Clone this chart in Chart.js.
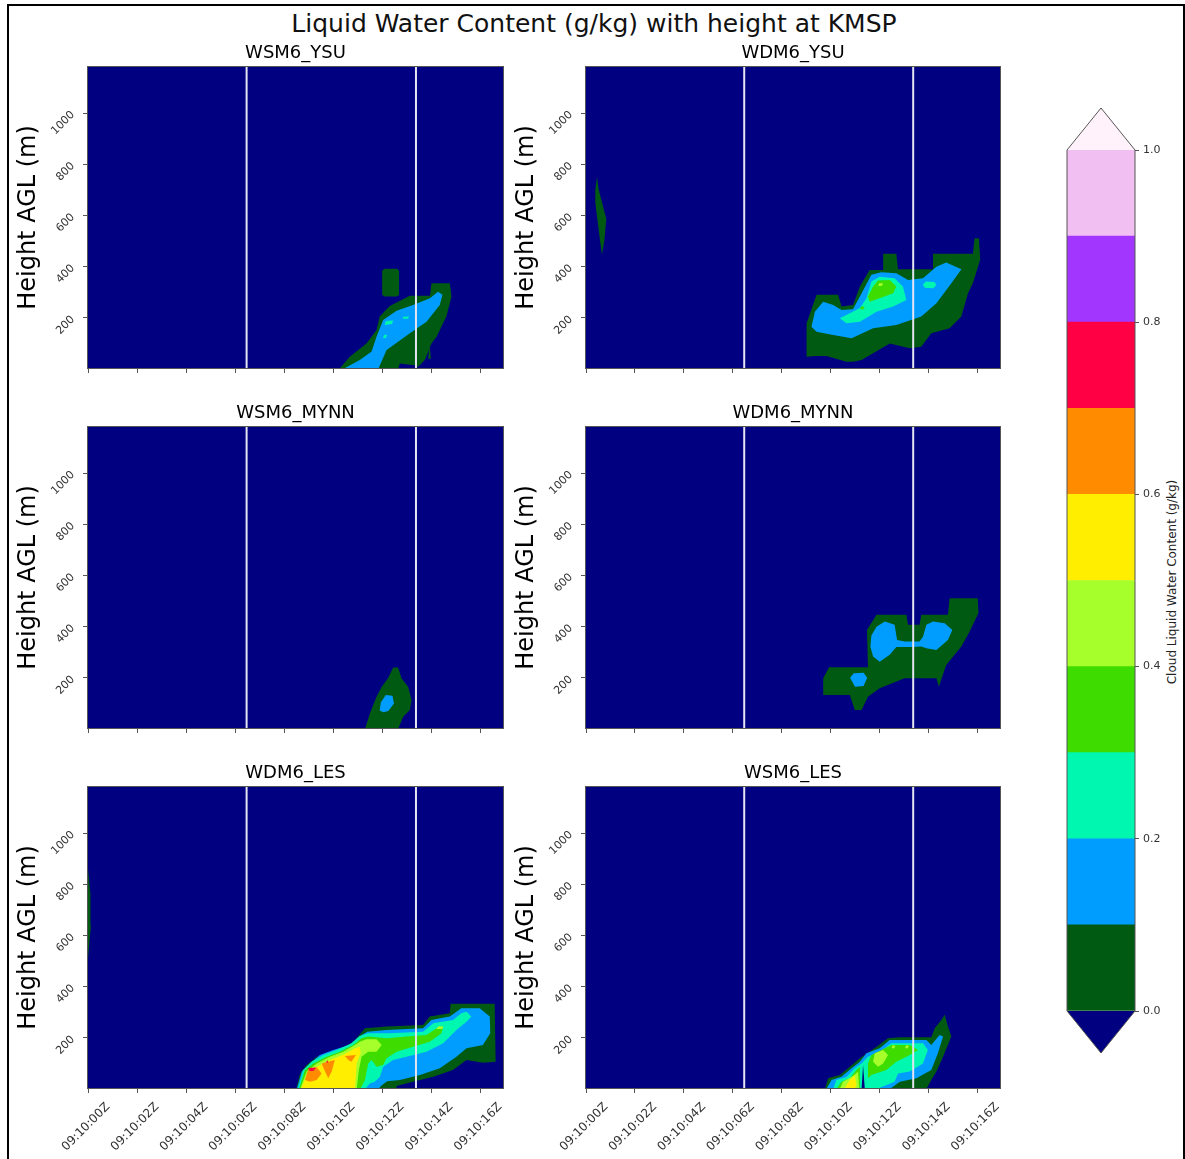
<!DOCTYPE html>
<html>
<head>
<meta charset="utf-8">
<script src="https://cdn.jsdelivr.net/npm/chart.js@4.4.1/dist/chart.umd.min.js"></script>
<style>
  body { margin: 0; background: #fff; font-family: 'DejaVu Sans', sans-serif; }
  #fig { position: relative; width: 1185px; height: 1159px; overflow: hidden; }
  #frame { position: absolute; left: 7px; top: 4px; width: 1174px; height: 1170px; border: 2px solid #000; }
  #fig canvas { position: absolute; }
  #suptitle { position: absolute; left: 0; top: 8px; width: 1188px; text-align: center; font-size: 25px; line-height: 32px; color: #111; }
  #cblabel { position: absolute; left: 1172px; top: 582px; transform: translate(-50%, -50%) rotate(-90deg); font-size: 12px; white-space: nowrap; color: #222; }
</style>
</head>
<body>
<div id="fig">
  <div id="frame"></div>
  <div id="suptitle">Liquid Water Content (g/kg) with height at KMSP</div>
  <div id="cblabel">Cloud Liquid Water Content (g/kg)</div>
</div>
<script>
// axis data
const timeLabels = ['09:10:00Z', '09:10:02Z', '09:10:04Z', '09:10:06Z', '09:10:08Z', '09:10:10Z', '09:10:12Z', '09:10:14Z', '09:10:16Z'];
const timeTicks = [0, 2, 4, 6, 8, 10, 12, 14, 16];
const timeRange = [0, 16.93];
const heightTicks = [200, 400, 600, 800, 1000];
const heightRange = [4, 1180];
const markerTimes = [6.47, 13.38];   // white vertical lines
const levelBounds = [0, 0.1, 0.2, 0.3, 0.4, 0.5, 0.6, 0.7, 0.8, 0.9, 1.0];
const colorbarTicks = [0, 0.2, 0.4, 0.6, 0.8, 1.0];
const panelTitles = ['WSM6_YSU', 'WDM6_YSU', 'WSM6_MYNN', 'WDM6_MYNN', 'WDM6_LES', 'WSM6_LES'];

// filled contours: [level index, outline [time, height]] ; -1 = below 0
const wsm6Ysu = [
  [0, [[10.25,0],[10.68,48],[11.36,100],[11.77,152],[11.9,205],[12.31,246],[13.13,286],[13.95,286],[14.01,335],[14.76,335],[14.83,283],[14.62,205],[14.22,126],[14.01,100],[13.74,35],[13.47,9],[13.3,15],[12.72,22],[12.65,0]]],
  [0, [[12.0,290],[12.0,385],[12.1,392],[12.6,392],[12.69,385],[12.69,290],[12.6,283],[12.1,283]]],
  [0, [[13.88,40],[13.92,100],[13.99,40]]],
  [1, [[10.41,0],[11.09,35],[11.57,68],[11.77,126],[12.04,192],[12.59,228],[13.26,250],[13.95,277],[14.28,302],[14.46,290],[14.35,250],[13.81,185],[13.13,140],[12.18,74],[11.84,0]]],
  [2, [[12.1,172],[12.15,188],[12.45,190],[12.4,176]]],
  [2, [[12.82,196],[12.85,204],[13.1,205],[13.05,196]]],
  [2, [[12.03,122],[12.1,134],[12.2,134],[12.15,120]]]
];
const wdm6Ysu = [
  [0, [[0.45,750],[0.52,700],[0.83,586],[0.75,500],[0.65,446],[0.55,520],[0.38,650],[0.38,700]]],
  [0, [[9.02,48],[9.02,179],[9.43,290],[10.31,290],[10.45,244],[10.92,250],[11.2,322],[11.6,387],[12.15,387],[12.15,450],[12.69,450],[12.76,390],[14.19,390],[14.19,450],[15.82,450],[15.89,511],[16.07,511],[16.12,427],[15.82,335],[15.62,296],[15.35,205],[14.87,159],[14.12,140],[13.71,87],[13.24,81],[12.42,100],[11.27,35],[10.92,28],[10.65,28],[9.84,51],[9.36,51]]],
  [1, [[9.22,165],[9.36,224],[9.7,263],[10.11,250],[10.45,231],[10.92,234],[11.27,296],[11.67,368],[12.08,378],[12.69,374],[13.17,348],[13.78,355],[14.33,400],[14.73,416],[15.35,390],[14.94,335],[14.33,257],[13.71,205],[12.69,172],[11.74,159],[10.86,120],[10.11,133],[9.43,146]]],
  [2, [[10.38,198],[10.79,218],[11.2,238],[11.47,277],[11.67,342],[12.01,361],[12.62,355],[12.96,322],[13.1,270],[12.56,244],[11.88,224],[11.2,185],[10.65,179]]],
  [2, [[13.78,330],[13.9,342],[14.25,340],[14.33,328],[14.2,316],[13.85,318]]],
  [3, [[11.53,283],[11.74,322],[11.94,346],[12.42,348],[12.69,322],[12.56,296],[12.01,277],[11.6,263]]],
  [3, [[11.2,236],[11.3,246],[11.4,240],[11.3,232]]],
  [4, [[11.95,325],[12.0,336],[12.15,334],[12.1,324]]]
];
const wsm6Mynn = [
  [0, [[11.3,0],[11.5,61],[11.77,126],[11.98,165],[12.24,198],[12.45,240],[12.65,240],[12.79,198],[13.06,165],[13.2,113],[13.13,74],[12.86,48],[12.65,0]]],
  [1, [[11.9,72],[11.95,105],[12.15,133],[12.42,130],[12.48,100],[12.25,70],[12.05,66]]]
];
const wdm6Mynn = [
  [0, [[9.7,133],[9.7,198],[9.94,241],[11.53,241],[11.49,387],[11.88,446],[13.1,446],[13.17,407],[13.64,407],[13.71,446],[14.8,446],[14.87,511],[16.02,511],[16.05,453],[15.69,381],[15.35,322],[14.73,250],[14.43,165],[14.33,198],[13.03,198],[12.01,159],[11.53,126],[11.27,74],[10.99,74],[10.79,133]]],
  [1, [[10.8,200],[10.95,218],[11.35,220],[11.5,200],[11.35,168],[11.0,165]]],
  [1, [[11.67,365],[11.88,400],[12.22,420],[12.62,407],[12.72,348],[13.03,342],[13.64,342],[13.78,361],[13.92,407],[14.19,420],[14.67,413],[14.98,387],[14.8,348],[14.33,309],[13.92,316],[13.71,322],[13.37,320],[12.69,320],[12.42,290],[12.01,263],[11.74,283],[11.63,322]]]
];
const wdm6Les = [
  [0, [[0,510],[0.12,640],[0.1,760],[0,860]]],
  [0, [[8.49,0],[8.65,61],[8.92,94],[9.33,126],[9.87,146],[10.55,165],[10.89,192],[11.3,237],[12.18,244],[13.67,250],[13.94,283],[14.76,296],[14.79,333],[16.59,333],[16.63,107],[16.11,103],[15.44,113],[14.89,74],[14.08,48],[13.26,28],[12.59,12],[12.59,0]]],
  [1, [[8.52,0],[8.72,68],[9.06,100],[9.46,133],[10.0,152],[10.68,172],[11.02,202],[11.39,224],[12.18,231],[13.67,237],[14.01,270],[14.76,283],[15.23,316],[15.98,316],[16.39,283],[16.41,218],[16.11,172],[15.44,159],[15.03,126],[14.35,81],[13.54,55],[12.72,35],[12.2,30],[11.95,12],[11.85,0]]],
  [2, [[8.56,0],[8.78,74],[9.12,107],[9.6,133],[10.14,152],[10.75,179],[11.09,207],[11.43,218],[12.31,218],[13.67,224],[14.08,257],[14.89,270],[15.23,296],[15.44,302],[15.64,283],[15.44,263],[15.03,231],[14.49,179],[13.81,146],[12.99,126],[12.45,113],[12.04,87],[11.91,48],[11.7,28],[11.5,22],[11.3,0]]],
  [3, [[8.61,0],[8.85,74],[9.19,100],[9.74,126],[10.28,146],[10.82,172],[11.16,198],[11.43,205],[12.18,198],[12.99,205],[13.81,211],[14.22,237],[14.49,244],[14.42,218],[13.94,185],[13.26,165],[12.59,146],[12.18,120],[12.04,94],[11.77,87],[11.57,113],[11.43,100],[11.3,35],[11.1,0]]],
  [4, [[8.65,0],[8.92,68],[9.33,100],[9.87,126],[10.41,146],[10.89,172],[11.09,185],[11.36,194],[11.77,194],[11.98,172],[11.77,146],[11.43,146],[11.16,126],[11.05,74],[10.96,0]]],
  [4, [[14.2,235],[14.3,245],[14.5,244],[14.45,235]]],
  [5, [[8.69,0],[8.92,55],[9.33,87],[9.87,113],[10.48,137],[10.89,159],[11.09,165],[11.12,140],[10.96,100],[10.89,0]]],
  [6, [[8.85,35],[8.99,77],[9.33,85],[9.53,61],[9.33,35],[9.06,28]]],
  [6, [[9.53,100],[10.07,113],[9.94,68],[9.8,42],[9.67,68]]],
  [6, [[10.48,129],[10.93,133],[10.75,107],[10.62,113]]],
  [7, [[8.98,82],[9.3,84],[9.2,70],[9.05,70]]],
  [7, [[9.7,104],[9.78,112],[9.8,104]]]
];
const wsm6Les = [
  [0, [[9.77,0],[9.9,42],[10.38,55],[10.79,87],[11.2,120],[11.88,165],[12.35,198],[12.83,202],[14.12,202],[14.26,237],[14.53,270],[14.67,290],[14.8,244],[14.94,205],[14.6,126],[14.33,68],[14.12,35],[13.92,0]]],
  [1, [[9.83,0],[10.04,35],[10.45,48],[10.86,81],[11.2,107],[11.47,140],[12.01,159],[12.42,192],[13.92,192],[14.12,172],[14.46,211],[14.6,205],[14.39,140],[14.12,74],[13.51,42],[12.83,28],[12.42,0]]],
  [2, [[10.11,0],[10.24,35],[10.65,47],[10.99,81],[11.27,100],[11.53,126],[12.01,146],[12.49,179],[13.78,179],[13.98,152],[13.78,100],[13.24,68],[12.76,61],[12.62,28],[11.88,0]]],
  [3, [[10.24,0],[10.45,28],[10.79,42],[11.06,74],[11.2,87],[11.2,0]]],
  [3, [[11.53,100],[11.67,133],[12.08,152],[12.49,172],[13.24,172],[13.58,152],[13.24,133],[12.69,107],[12.28,74],[11.67,55],[11.53,42]]],
  [4, [[10.37,0],[10.51,28],[10.92,51],[11.13,68],[11.17,0]]],
  [4, [[11.74,107],[11.81,140],[12.15,152],[12.35,133],[12.15,100],[11.94,87]]],
  [4, [[12.5,160],[12.55,172],[12.65,168],[12.6,158]]],
  [4, [[13.05,160],[13.1,172],[13.2,168],[13.15,158]]],
  [5, [[10.55,0],[10.79,35],[10.99,55],[11.06,15],[10.99,0]]],
  [-1, [[11.27,0],[11.33,95],[11.4,0]]]
];
const panelContours = [wsm6Ysu, wdm6Ysu, wsm6Mynn, wdm6Mynn, wdm6Les, wsm6Les];

// styles
const underColor = '#000080';
const overColor = '#fff2fb';
const bandColors = ['#005a12', '#009dff', '#00f7b0', '#3fdc00', '#a6ff2a', '#ffee00', '#ff8c00', '#ff0044', '#a236ff', '#f2bff2'];
const markerColor = '#e4e4f2';
const spineColor = '#555';

// plot-area placement on the page
const panelBoxes = [
  { left: 88, top: 67, w: 415, labels: false },
  { left: 586, top: 67, w: 414, labels: false },
  { left: 88, top: 427, w: 415, labels: false },
  { left: 586, top: 427, w: 414, labels: false },
  { left: 88, top: 787, w: 415, labels: true },
  { left: 586, top: 787, w: 414, labels: true }
];
const plotH = 301, axisW = 80, titleH = 30, padR = 10;

Chart.defaults.font.family = "'DejaVu Sans', sans-serif";
Chart.defaults.color = '#222';
Chart.defaults.animation = false;

const fig = document.getElementById('fig');

const panelFrame = {
  id: 'panelFrame',
  beforeDatasetsDraw(chart) {
    const { ctx, chartArea: a } = chart;
    ctx.save();
    ctx.fillStyle = underColor;
    ctx.fillRect(a.left, a.top, a.width, a.height);
    ctx.restore();
  },
  afterDatasetsDraw(chart) {
    const { ctx, chartArea: a } = chart;
    ctx.save();
    ctx.strokeStyle = spineColor;
    ctx.lineWidth = 1;
    ctx.strokeRect(a.left - 0.5, a.top - 0.5, a.width + 1, a.height + 1);
    ctx.restore();
  }
};

function addCanvas(left, top, w, h) {
  const cv = document.createElement('canvas');
  cv.width = w;
  cv.height = h;
  cv.style.left = left + 'px';
  cv.style.top = top + 'px';
  fig.appendChild(cv);
  return cv;
}

function noPadding(s) {
  s.paddingTop = 0; s.paddingBottom = 0; s.paddingLeft = 0; s.paddingRight = 0;
}

panelBoxes.forEach((box, i) => {
  const bottomH = box.labels ? 75 : 20;
  const cv = addCanvas(box.left - axisW, box.top - titleH, axisW + box.w + padR, titleH + plotH + bottomH);

  const datasets = panelContours[i].map(([lvl, pts], k) => ({
    data: pts.map(([x, y]) => ({ x, y })),
    backgroundColor: lvl < 0 ? underColor : bandColors[lvl],
    borderColor: 'rgba(0,0,0,0)',
    borderWidth: 0,
    pointRadius: 0,
    tension: 0,
    fill: 'shape',
    order: 1000 - k
  }));
  markerTimes.forEach(t => datasets.push({
    data: [{ x: t, y: heightRange[0] }, { x: t, y: heightRange[1] }],
    borderColor: markerColor,
    borderWidth: 2,
    pointRadius: 0,
    fill: false,
    order: 0
  }));

  new Chart(cv, {
    type: 'line',
    data: { datasets },
    options: {
      responsive: false,
      events: [],
      layout: { padding: { left: 0, right: padR, top: 0, bottom: 0 } },
      plugins: {
        legend: { display: false },
        tooltip: { enabled: false },
        title: {
          display: true,
          fullSize: false,
          text: panelTitles[i],
          color: '#000',
          font: { size: 18, weight: 'normal', lineHeight: '20px' },
          padding: { top: 6, bottom: 4 }
        }
      },
      scales: {
        x: {
          type: 'linear',
          min: timeRange[0],
          max: timeRange[1],
          afterBuildTicks: s => { s.ticks = timeTicks.map(v => ({ value: v })); },
          afterFit: s => { s.height = bottomH; noPadding(s); },
          ticks: {
            display: box.labels,
            autoSkip: false,
            minRotation: 45,
            maxRotation: 45,
            labelOffset: 20,
            padding: 7,
            color: '#333',
            font: { size: 12 },
            callback: v => timeLabels[timeTicks.indexOf(v)]
          },
          grid: { drawOnChartArea: false, drawTicks: true, tickLength: 5, color: spineColor },
          border: { display: false }
        },
        y: {
          type: 'linear',
          min: heightRange[0],
          max: heightRange[1],
          afterBuildTicks: s => { s.ticks = heightTicks.map(v => ({ value: v })); },
          afterFit: s => { s.width = axisW; noPadding(s); },
          ticks: { minRotation: 45, maxRotation: 45, padding: 10, color: '#333', font: { size: 11 }, callback: v => String(v) },
          title: { display: true, text: 'Height AGL (m)', color: '#000', font: { size: 24 }, padding: { top: 6, bottom: 0 } },
          grid: { drawOnChartArea: false, drawTicks: true, tickLength: 5, color: spineColor },
          border: { display: false }
        }
      }
    },
    plugins: [panelFrame]
  });
});

// colorbar with extend triangles
const cbExtend = {
  id: 'cbExtend',
  afterDatasetsDraw(chart) {
    const { ctx, chartArea: a } = chart;
    const cx = (a.left + a.right) / 2, tri = 42;
    ctx.save();
    ctx.fillStyle = overColor;
    ctx.beginPath();
    ctx.moveTo(a.left, a.top); ctx.lineTo(cx, a.top - tri); ctx.lineTo(a.right, a.top); ctx.closePath();
    ctx.fill();
    ctx.fillStyle = underColor;
    ctx.beginPath();
    ctx.moveTo(a.left, a.bottom); ctx.lineTo(cx, a.bottom + tri); ctx.lineTo(a.right, a.bottom); ctx.closePath();
    ctx.fill();
    ctx.strokeStyle = spineColor;
    ctx.lineWidth = 1;
    ctx.beginPath();
    ctx.moveTo(a.left, a.top); ctx.lineTo(cx, a.top - tri); ctx.lineTo(a.right, a.top);
    ctx.lineTo(a.right, a.bottom); ctx.lineTo(cx, a.bottom + tri); ctx.lineTo(a.left, a.bottom);
    ctx.closePath();
    ctx.stroke();
    ctx.restore();
  }
};

const cbCanvas = addCanvas(1057, 100, 128, 961);
new Chart(cbCanvas, {
  type: 'bar',
  data: {
    labels: [''],
    datasets: bandColors.map((c, i) => ({
      data: [[levelBounds[i], levelBounds[i + 1]]],
      backgroundColor: c,
      borderWidth: 0
    }))
  },
  options: {
    responsive: false,
    events: [],
    grouped: false,
    barPercentage: 1,
    categoryPercentage: 1,
    layout: { padding: { left: 10, right: 0, top: 50, bottom: 50 } },
    plugins: { legend: { display: false }, tooltip: { enabled: false } },
    scales: {
      x: { display: false },
      y: {
        position: 'right',
        min: 0,
        max: 1,
        afterBuildTicks: s => { s.ticks = colorbarTicks.map(v => ({ value: v })); },
        afterFit: s => { s.width = 50; noPadding(s); },
        ticks: { padding: 4, color: '#333', font: { size: 11 }, callback: v => v.toFixed(1) },
        grid: { drawOnChartArea: false, drawTicks: true, tickLength: 4, color: spineColor },
        border: { display: false }
      }
    }
  },
  plugins: [cbExtend]
});
</script>
</body>
</html>
